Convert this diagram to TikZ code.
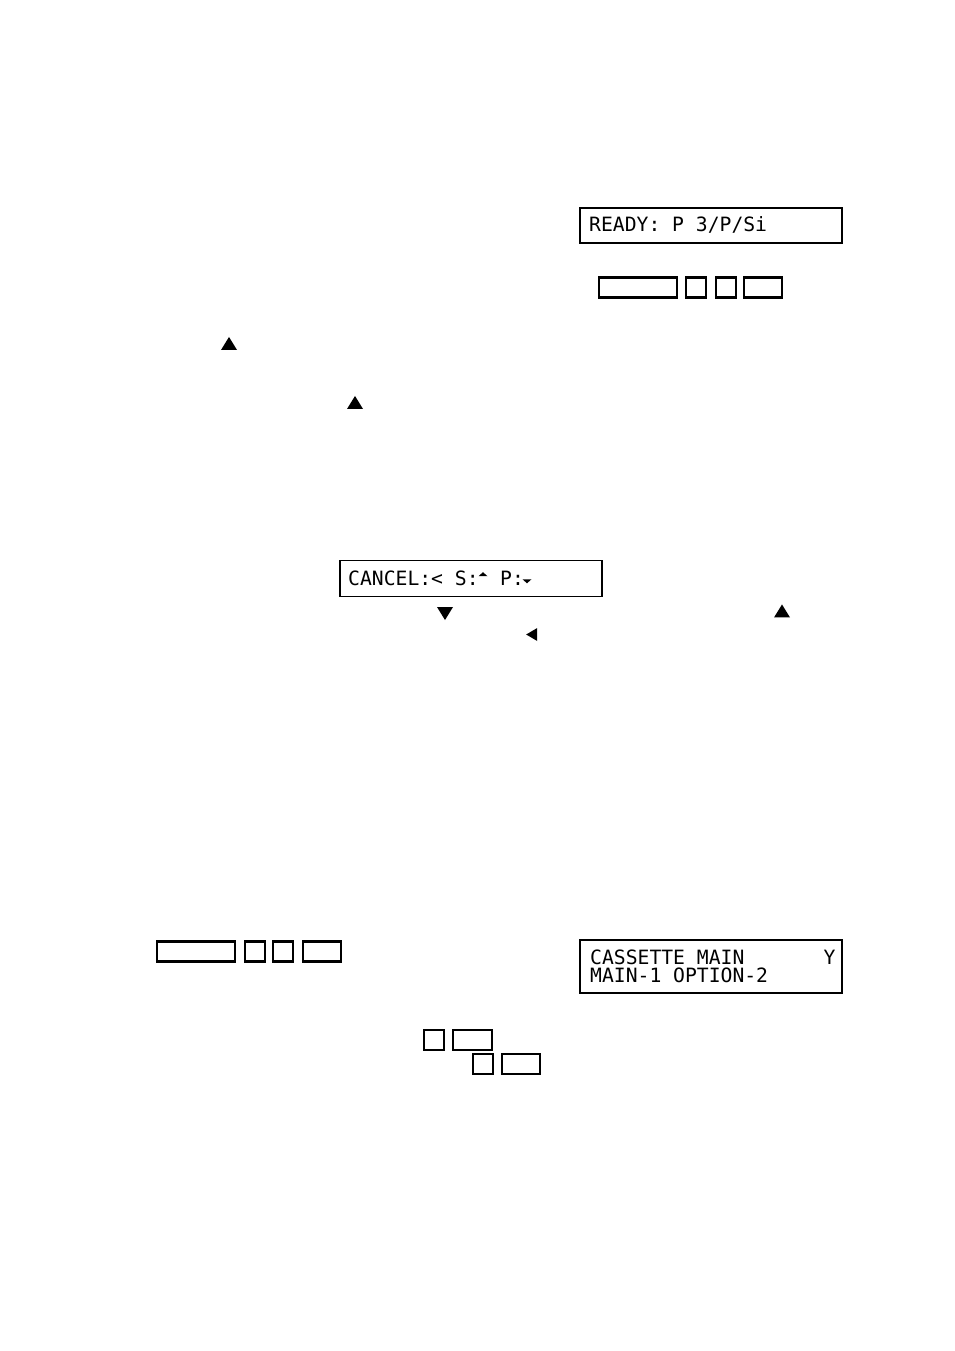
\documentclass[tikz,border=0pt]{standalone}
\usepackage{fontspec}
\setmonofont{DejaVu Sans Mono}
\usetikzlibrary{shapes.geometric}

\begin{document}
\begin{tikzpicture}[x=1pt, y=-1pt]
    \tikzstyle{display} = [rectangle, draw=black, line width=1.7pt, inner sep=0pt]
    \tikzstyle{key} = [rectangle, draw=black, line width=2.2pt, inner sep=0pt, minimum height=20pt]
    \tikzstyle{lcdtext} = [anchor=base west, inner sep=0pt, font=\fontsize{19.7pt}{19.7pt}\selectfont\ttfamily]
    \tikzstyle{arrowmark} = [isosceles triangle, isosceles triangle apex angle=78, isosceles triangle stretches, fill=black, inner sep=0pt, minimum height=13pt, minimum width=16pt]
    \tikzstyle{minimark} = [arrowmark, minimum height=4pt, minimum width=9pt]
    \useasboundingbox (0, 0) rectangle (954, 1351);
    % top display and its keys
    \node[display, minimum width=262pt, minimum height=35pt] (ready) at (711, 225.5) {};
    \node[lcdtext] (ready-text) at (589, 231) {READY: P 3/P/Si};
    \node[key, minimum width=78pt] (top-long) at (638, 287.5) {};
    \node[key, minimum width=20pt] (top-a) at (696, 287.5) {};
    \node[key, minimum width=20pt] (top-b) at (726, 287.5) {};
    \node[key, minimum width=38pt] (top-c) at (763, 287.5) {};
    % loose arrows in the text
    \node[arrowmark, shape border rotate=90] (up-a) at (229, 345.5) {};
    \node[arrowmark, shape border rotate=90] (up-b) at (355, 404.5) {};
    % cancel display
    \node[display, line width=1.2pt, minimum width=262pt, minimum height=36pt] (cancel) at (471, 578.5) {};
    \node[lcdtext] (cancel-text) at (348, 585) {CANCEL:< S:};
    \node[lcdtext] (cancel-p) at (500, 585) {P:};
    \node[minimark, shape border rotate=90] (cancel-up) at (483, 574.5) {};
    \node[minimark, shape border rotate=270] (cancel-down) at (527, 581) {};
    \node[arrowmark, shape border rotate=270] (down-a) at (445, 611.5) {};
    \node[arrowmark, shape border rotate=90] (up-c) at (782, 613) {};
    \node[arrowmark, shape border rotate=180, minimum height=11pt, minimum width=13pt] (left-a) at (533.5, 634.5) {};
    % lower keys and cassette display
    \node[key, minimum width=78pt] (low-long) at (196, 951.5) {};
    \node[key, minimum width=20pt] (low-a) at (255, 951.5) {};
    \node[key, minimum width=20pt] (low-b) at (283, 951.5) {};
    \node[key, minimum width=38pt] (low-c) at (322, 951.5) {};
    \node[display, minimum width=262pt, minimum height=53pt] (cassette) at (711, 966.5) {};
    \node[lcdtext] (cassette-a) at (590, 964) {CASSETTE MAIN};
    \node[lcdtext] (cassette-y) at (823.5, 964) {Y};
    \node[lcdtext] (cassette-b) at (590, 982) {MAIN-1 OPTION-2};
    % keys at the bottom
    \node[key, minimum width=20pt] (row-a) at (434, 1040) {};
    \node[key, minimum width=39pt] (row-b) at (472.5, 1040) {};
    \node[key, minimum width=20pt] (row-c) at (483, 1064) {};
    \node[key, minimum width=38pt] (row-d) at (521, 1064) {};
\end{tikzpicture}
\end{document}
